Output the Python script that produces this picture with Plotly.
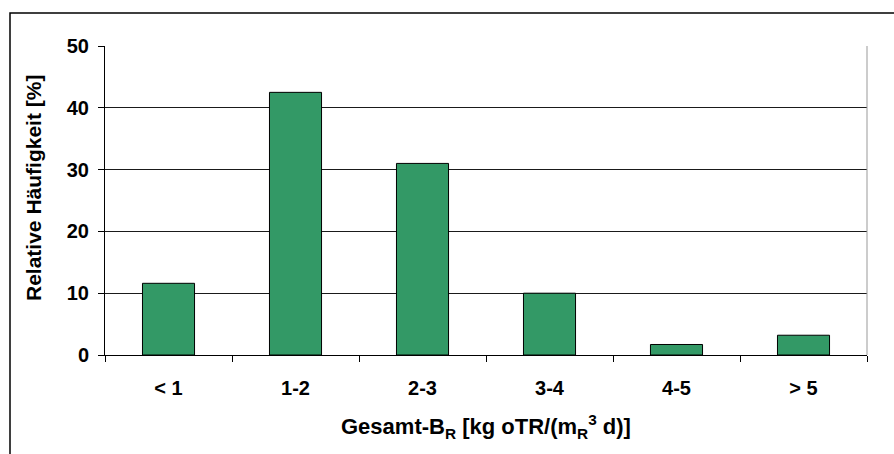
import plotly.graph_objects as go

# Relative frequency of total organic loading rate classes
categories = ["< 1", "1-2", "2-3", "3-4", "4-5", "> 5"]
share_pct = [11.6, 42.5, 31.0, 10.0, 1.7, 3.2]
y_ticks = [0, 10, 20, 30, 40, 50]

x_title = "<b>Gesamt-B<sub>R</sub> [kg oTR/(m<sub>R</sub><sup>3</sup> d)]</b>"
y_title = "<b>Relative Häufigkeit [%]</b>"

FONT = "Liberation Sans, Arial, sans-serif"

fig = go.Figure(
    go.Bar(
        x=categories,
        y=share_pct,
        marker=dict(color="#339966", line=dict(color="#000000", width=1)),
        width=0.41,
        hoverinfo="x+y",
    )
)

# plot area placement (pixels)
L, R, T, B = 105, 867, 46, 355
W, H = 894, 454
pw, ph = R - L, B - T

def px_x(x):
    return (x - L) / pw

def px_y(y):
    return (B - y) / ph

def esc(s):
    return s.replace("<", "&lt;").replace(">", "&gt;")

fig.update_layout(
    width=W,
    height=H,
    margin=dict(l=L, r=W - R, t=T, b=H - B, pad=0),
    paper_bgcolor="white",
    plot_bgcolor="white",
    showlegend=False,
    font=dict(family=FONT, size=15, color="#000000"),
    xaxis=dict(
        type="category",
        tickmode="array",
        tickvals=categories,
        ticktext=["<b>" + esc(c) + "</b>" for c in categories],
        showline=True,
        linecolor="#000000",
        linewidth=1,
        ticks="outside",
        tickson="boundaries",
        ticklen=6,
        tickcolor="#000000",
        showgrid=False,
        ticklabelstandoff=15,
        tickfont=dict(family=FONT, size=20, color="#000000"),
    ),
    yaxis=dict(
        range=[0, 50],
        tickmode="array",
        tickvals=y_ticks,
        ticktext=["<b>%d</b>" % v for v in y_ticks],
        showline=True,
        linecolor="#000000",
        linewidth=1,
        ticks="outside",
        ticklen=6,
        tickcolor="#000000",
        showgrid=True,
        gridcolor="#1a1a1a",
        gridwidth=1,
        zeroline=False,
        ticklabelstandoff=5,
        tickfont=dict(family=FONT, size=20, color="#000000"),
    ),
    annotations=[
        dict(text=x_title, xref="paper", yref="paper",
             x=px_x(486), y=px_y(426), xanchor="center", yanchor="middle",
             showarrow=False, font=dict(family=FONT, size=22, color="#000000")),
        dict(text=y_title, xref="paper", yref="paper", textangle=-90,
             x=px_x(33), y=px_y(188), xanchor="center", yanchor="middle",
             showarrow=False, font=dict(family=FONT, size=21, color="#000000")),
    ],
    shapes=[
        # right edge of the plot area
        dict(type="line", xref="paper", yref="paper", x0=1, x1=1, y0=0, y1=1,
             line=dict(color="#999999", width=1)),
        # outer chart frame
        dict(type="rect", xref="paper", yref="paper",
             x0=px_x(10), x1=px_x(910), y0=px_y(470), y1=px_y(13),
             line=dict(color="#000000", width=1.5), layer="above"),
    ],
)

fig.write_html("out.html")
